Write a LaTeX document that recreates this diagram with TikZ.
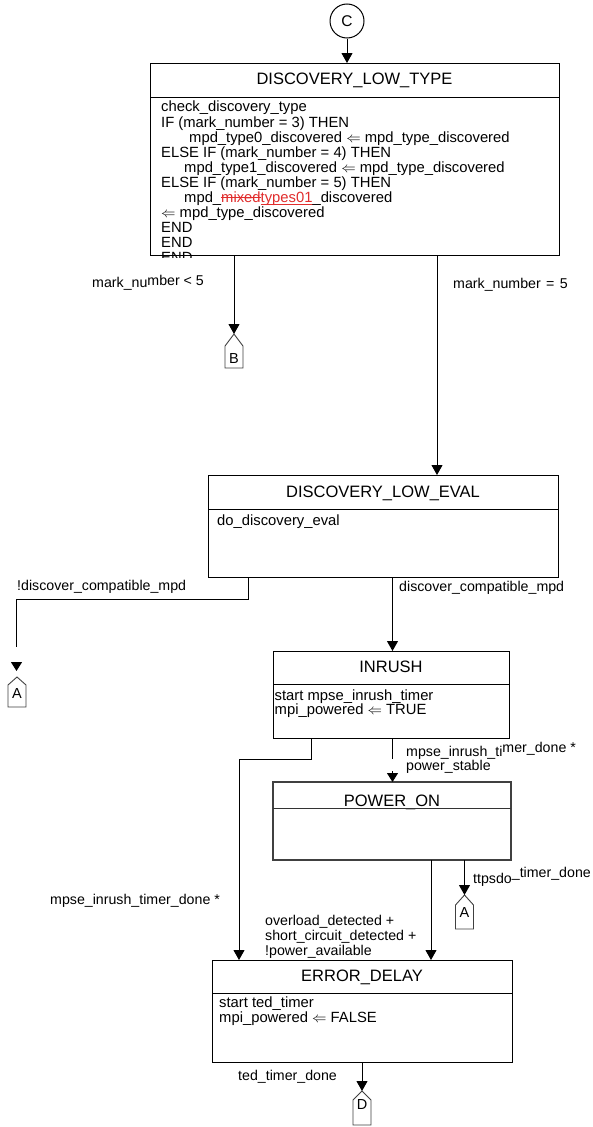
\documentclass[tikz,border=0pt]{standalone}
\usepackage{fontspec}
\setmainfont{Liberation Sans}
\usetikzlibrary{arrows.meta}
\definecolor{mred}{RGB}{225,45,45}
\newlength\mytmplen
\newcommand\mystrike[1]{\settowidth{\mytmplen}{#1}\rlap{\rule[0.3em]{\mytmplen}{0.8pt}}#1}
\newcommand\myuline[1]{\settowidth{\mytmplen}{#1}\rlap{\rule[-0.12em]{\mytmplen}{0.8pt}}#1}
\newcommand\offpg[7]{%
  \coordinate (#1) at (#2,#3);
  \draw[page] ({#2-9},{#4}) -- (#2,#3) -- ({#2+9},{#4}) -- ({#2+9},{#5}) -- ({#2-9},{#5}) -- cycle;
  \node[letter] (#1-l) at (#2,#7) {#6};
}
\tikzset{
  sbox/.style={draw, line width=1pt, inner sep=0pt, outer sep=0pt},
  ttl/.style={font=\fontsize{16.5}{18}\selectfont, inner sep=0pt, anchor=base},
  body/.style={font=\fontsize{14.8}{15.1}\selectfont, align=left, inner sep=0pt, anchor=north west},
  lbl/.style={font=\fontsize{14.2}{15}\selectfont, align=left, inner sep=0pt, anchor=west},
  conn/.style={line width=1pt},
  arr/.style={line width=1pt, -{Triangle[width=11pt,length=10pt]}},
  tiponly/.style={line width=1pt, -{Triangle[width=11pt,length=9pt]}},
  page/.style={draw=black!75, line width=0.9pt},
  letter/.style={font=\fontsize{14.5}{15}\selectfont, inner sep=0pt}
}
\begin{document}
\begin{tikzpicture}[x=1pt,y=-1pt]
\fill[white] (0,0) rectangle (592,1127);
\useasboundingbox (0,0) rectangle (592,1127);

% connector C
\node[draw, circle, line width=1pt, minimum size=34pt, inner sep=0pt, font=\fontsize{15.5}{16}\selectfont] (c) at (347,21) {C};

% DISCOVERY_LOW_TYPE
\node[sbox, minimum width=409pt, minimum height=192pt] (dlt) at (354.5,159) {};
\node[ttl] (dltt) at (354.5,84) {DISCOVERY\_LOW\_TYPE};
\draw[conn] (dlt.west |- 0,97) -- (dlt.east |- 0,97);
\begin{scope}
\clip (150,63) rectangle (559,257.5);
\node[body] (dltb) at (161,101) {check\_discovery\_type\\
IF (mark\_number = 3) THEN\\
\hspace*{28pt}mpd\_type0\_discovered $\Leftarrow$ mpd\_type\_discovered\\
ELSE IF (mark\_number = 4) THEN\\
\hspace*{23pt}mpd\_type1\_discovered $\Leftarrow$ mpd\_type\_discovered\\
ELSE IF (mark\_number = 5) THEN\\
\hspace*{23pt}mpd\_\textcolor{mred}{\mystrike{mixed}\myuline{types01}}\_discovered\\
$\Leftarrow$ mpd\_type\_discovered\\
END\\
END\\
END};
\end{scope}

% DISCOVERY_LOW_EVAL
\node[sbox, minimum width=350pt, minimum height=102pt] (dle) at (383,526) {};
\node[ttl] (dlet) at (383,497) {DISCOVERY\_LOW\_EVAL};
\draw[conn] (dle.west |- 0,509) -- (dle.east |- 0,509);
\node[body] (dleb) at (217,514.5) {do\_discovery\_eval};

% INRUSH
\node[sbox, minimum width=236pt, minimum height=87pt] (inr) at (391,694.5) {};
\node[ttl] (inrt) at (391,672) {INRUSH};
\draw[conn] (inr.west |- 0,684) -- (inr.east |- 0,684);
\node[body, font=\fontsize{14.8}{13.8}\selectfont] (inrb) at (274.5,689.5) {start mpse\_inrush\_timer\\mpi\_powered $\Leftarrow$ TRUE};

% POWER_ON
\node[sbox, draw=black!75, line width=1.3pt, minimum width=238pt, minimum height=78pt] (pwr) at (392,821) {};
\node[ttl] (pwrt) at (392,806) {POWER\_ON};
\draw[conn, draw=black!80] (pwr.west |- 0,808) -- (pwr.east |- 0,808);

% ERROR_DELAY
\node[sbox, minimum width=300pt, minimum height=102pt] (ed) at (362,1011) {};
\node[ttl] (edt) at (362,981) {ERROR\_DELAY};
\draw[conn] (ed.west |- 0,993) -- (ed.east |- 0,993);
\node[body, font=\fontsize{14.8}{14.6}\selectfont] (edb) at (219,997) {start ted\_timer\\mpi\_powered $\Leftarrow$ FALSE};

% off-page connectors
\offpg{pB}{234}{334}{346}{368}{B}{359}
\offpg{pA1}{17}{677}{685}{707}{A}{694}
\offpg{pA2}{464.5}{895}{905}{929}{A}{913}
\offpg{pD}{362}{1091}{1100}{1125}{D}{1104}

% connectors
\draw[arr] (c.south) -- (c.south |- dlt.north);
\draw[arr] (dlt.south -| pB) -- (pB);
\coordinate (x437) at (437,0);
\draw[arr] (dlt.south -| x437) -- (dle.north -| x437);

\coordinate (k1) at (248,599);
\coordinate (k2) at (16.5,599);
\coordinate (k3) at (16.5,647);
\coordinate (k4) at (16.5,662);
\coordinate (k5) at (16.5,671);
\draw[conn] (dle.south -| k1) -- (k1) -- (k2) -- (k3);
\draw[tiponly] (k4) -- (k5);

\coordinate (x392) at (392.5,0);
\draw[arr] (dle.south -| x392) -- (inr.north -| x392);

\coordinate (m1) at (311,759);
\coordinate (m2) at (239,759);
\draw[arr] (inr.south -| m1) -- (m1) -- (m2) -- (ed.north -| m2);

\coordinate (n1) at (392.5,759);
\coordinate (n2) at (392.5,771);
\draw[conn] (inr.south -| n1) -- (n1);
\draw[tiponly] (n2) -- (pwr.north -| n2);

\draw[arr] (pwr.south -| pA2) -- (pA2);
\coordinate (x431) at (431,0);
\draw[arr] (pwr.south -| x431) -- (ed.north -| x431);

\draw[arr] (ed.south -| pD) -- (pD);

% labels
\node[lbl] (l1) at (92,283) {mark\_nu\raisebox{2pt}{mber < 5}};
\node[lbl] (l2) at (453,285) {mark\_number\hspace{1.5pt} = \hspace{1.5pt}5};
\node[lbl] (l3) at (17,587) {!discover\_compatible\_mpd};
\node[lbl] (l4) at (399,588) {discover\_compatible\_mpd};
\node[lbl, font=\fontsize{14.2}{14}\selectfont] (l5) at (406,758) {mpse\_inrush\_ti\raisebox{4pt}{mer\_done *}\\power\_stable};
\node[lbl] (l6) at (473,877) {ttpsdo\raisebox{6pt}{\_timer\_done}};
\node[lbl] (l7) at (50,901) {mpse\_inrush\_timer\_done *};
\node[lbl] (l8) at (265,937) {overload\_detected +\\short\_circuit\_detected +\\!power\_available};
\node[lbl] (l9) at (238,1077) {ted\_timer\_done};
\end{tikzpicture}
\end{document}
